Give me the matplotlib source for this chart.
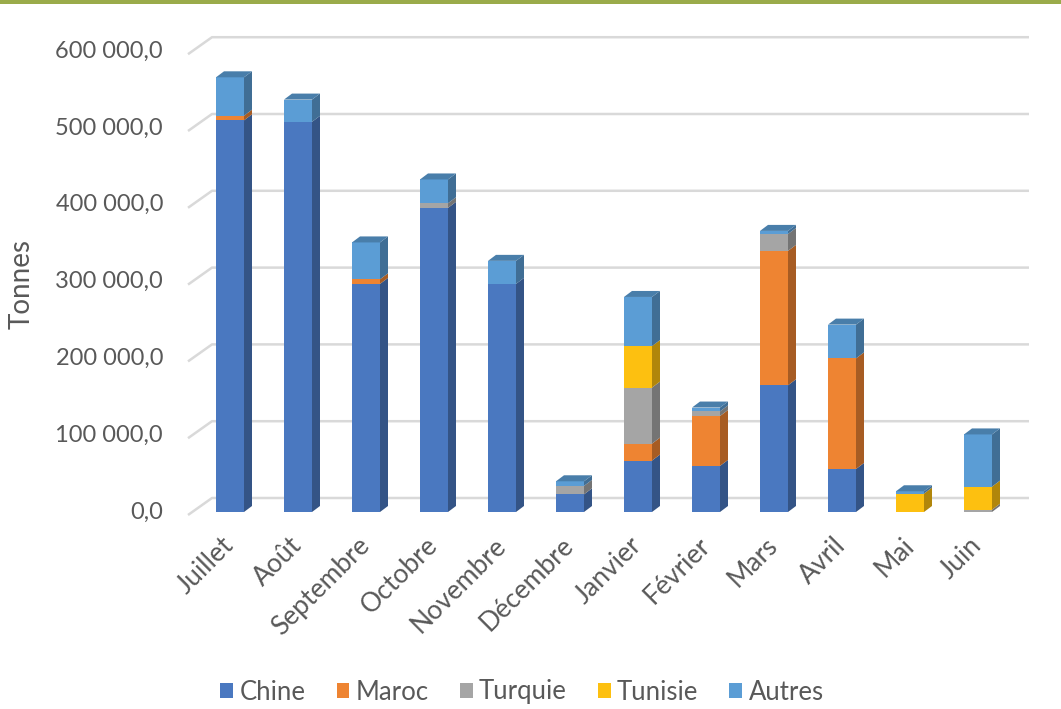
import numpy as np
import matplotlib.pyplot as plt
from matplotlib.patches import Polygon, Rectangle, Patch
from matplotlib.colors import to_rgb

plt.rcParams['font.family'] = ['Lato', 'DejaVu Sans']

months = ['Juillet', 'Août', 'Septembre', 'Octobre', 'Novembre', 'Décembre',
          'Janvier', 'Février', 'Mars', 'Avril', 'Mai', 'Juin']
series_names = ['Chine', 'Maroc', 'Turquie', 'Tunisie', 'Autres']
chine = [510000, 508000, 297000, 396000, 297000, 23000, 67000, 60000, 165000, 56000, 0, 0]
maroc = [6000, 0, 6000, 0, 0, 0, 22000, 65000, 175000, 144000, 0, 0]
turquie = [0, 0, 0, 6000, 0, 11000, 73000, 6000, 22000, 0, 0, 3000]
tunisie = [0, 0, 0, 0, 0, 0, 54000, 0, 0, 0, 24000, 30000]
autres = [50000, 29000, 48000, 31000, 30000, 6000, 64000, 5000, 4000, 44000, 3000, 68000]
yticks = [0, 100000, 200000, 300000, 400000, 500000, 600000]

colors = ['#4a78c0', '#ee8432', '#a5a5a5', '#fdc010', '#5b9dd5']
grey_text = '#595959'
grid_col = '#d9d9d9'


def shade(c, f):
    r, g, b = to_rgb(c)
    return (r * f, g * f, b * f)


# pixel geometry helpers (fig 1061x709 @100dpi)
px_cat = 68.0          # px per category
px_val = 76.8 / 100000  # px per tonne
x0_px, y0_px = 230, 512  # front zero of first category

fig = plt.figure(figsize=(10.61, 7.09), dpi=100)
ax_l, ax_r, ax_t, ax_b = 180, 1040, 20, 530
ax = fig.add_axes([ax_l / 1061, (709 - ax_b) / 709, (ax_r - ax_l) / 1061, (ax_b - ax_t) / 709])
ax.set_xlim((ax_l - x0_px) / px_cat, (ax_r - x0_px) / px_cat)
ax.set_ylim((y0_px - ax_b) / px_val, (y0_px - ax_t) / px_val)
ax.axis('off')

# back wall gridlines with the little perspective stubs
gdx, gdy = 24 / px_cat, 17 / px_val
g_low = 3 / px_val
g_front = (188 - x0_px) / px_cat
g_right = (1029 - x0_px) / px_cat
for v in yticks:
    ax.plot([g_front, g_front + gdx, g_right], [v - g_low, v - g_low + gdy, v - g_low + gdy],
            color=grid_col, lw=1.8, zorder=1, solid_capstyle='butt')
    lab = f'{v:,.1f}'.replace(',', ' ').replace('.', ',')
    ax.text((163 - x0_px) / px_cat, v, lab, ha='right', va='center',
            fontsize=17, color=grey_text)

# 3d-ish stacked bars
x = np.arange(len(months))
w = 28 / px_cat
ddx, ddy = 8 / px_cat, 6 / px_val
data = [chine, maroc, turquie, tunisie, autres]
bottom = np.zeros(len(months))
top_col = [None] * len(months)
for vals, c in zip(data, colors):
    vals = np.array(vals, dtype=float)
    for i in range(len(months)):
        v = vals[i]
        if v <= 0:
            continue
        b = bottom[i]
        ax.bar(x[i], v, bottom=b, width=w, color=c, zorder=3, linewidth=0)
        xr = x[i] + w / 2
        side = Polygon([(xr, b), (xr + ddx, b + ddy), (xr + ddx, b + v + ddy), (xr, b + v)],
                       closed=True, facecolor=shade(c, 0.7), edgecolor='none', zorder=3)
        ax.add_patch(side)
        top_col[i] = c
    bottom += vals
for i in range(len(months)):
    if top_col[i] is None:
        continue
    t = bottom[i]
    xl, xr = x[i] - w / 2, x[i] + w / 2
    ax.add_patch(Polygon([(xl, t), (xl + ddx, t + ddy), (xr + ddx, t + ddy), (xr, t)],
                         closed=True, facecolor=shade(top_col[i], 0.8),
                         edgecolor='none', zorder=4))

for i, m in enumerate(months):
    ax.text(x[i] - 0.13, -27000, m, rotation=45, ha='right', va='top',
            rotation_mode='anchor', fontsize=19, color=grey_text)

fig.text(22 / 1061, (709 - 284) / 709, 'Tonnes', rotation=90, ha='center',
         va='center', fontsize=20, color=grey_text)

handles = [Patch(facecolor=c, edgecolor='none') for c in colors]
fig.legend(handles, series_names, loc='center', ncol=5, frameon=False,
           bbox_to_anchor=(522 / 1061, (709 - 692) / 709), fontsize=18.5,
           handlelength=0.5, handleheight=0.5, handletextpad=0.25,
           columnspacing=1.2, labelcolor=grey_text)

fig.add_artist(Rectangle((0, 1 - 4 / 709), 1, 4 / 709, transform=fig.transFigure,
                         facecolor='#9aab4a', edgecolor='none'))

fig.savefig('out.png', dpi=100)
